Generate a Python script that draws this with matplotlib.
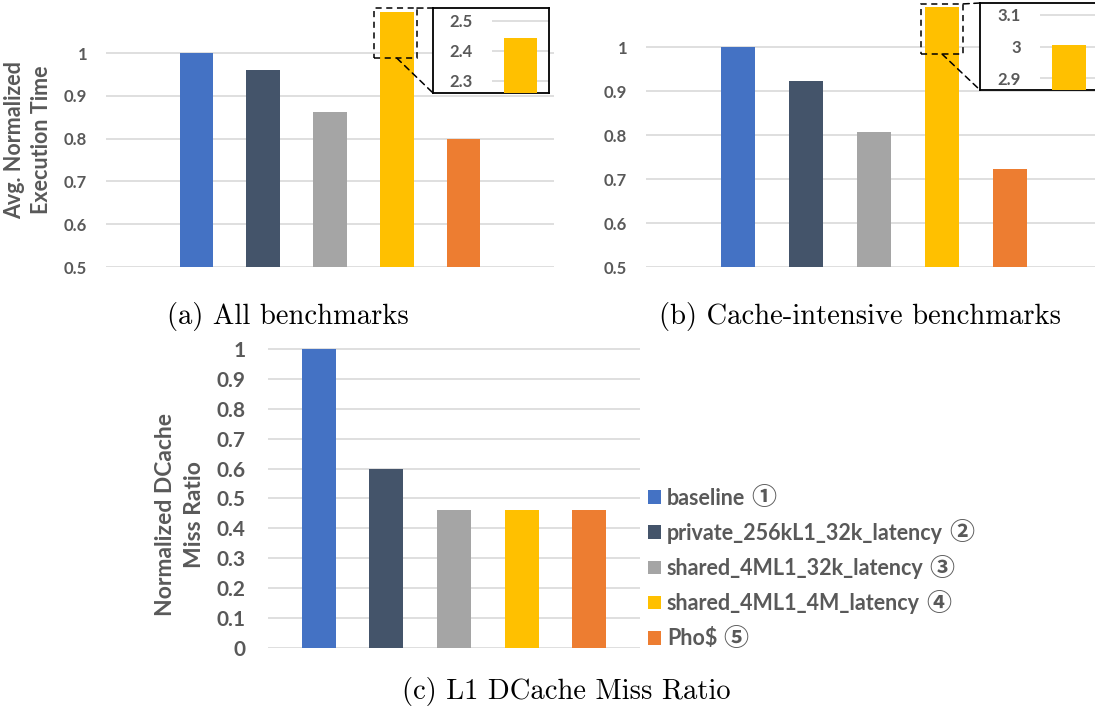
import matplotlib
matplotlib.use('Agg')
import matplotlib.pyplot as plt
from matplotlib.patches import Rectangle, Patch, ConnectionPatch

# ---------------- data ----------------
configs = ['baseline', 'private_256kL1_32k_latency', 'shared_4ML1_32k_latency',
           'shared_4ML1_4M_latency', 'Pho\\$']
circled = ['①', '②', '③', '④', '⑤']
colors = ['#4472C4', '#44546A', '#A5A5A5', '#FFC000', '#ED7D31']

exec_all = [1.0, 0.96, 0.863, 2.443, 0.80]      # (a) all benchmarks
exec_cache = [1.0, 0.923, 0.807, 3.005, 0.723]  # (b) cache-intensive
miss_ratio = [1.0, 0.60, 0.46, 0.46, 0.46]      # (c) L1 DCache miss ratio

ab_ticks = [0.5, 0.6, 0.7, 0.8, 0.9, 1.0]
ab_ticklabels = ['0.5', '0.6', '0.7', '0.8', '0.9', '1']
c_ticks = [0, 0.1, 0.2, 0.3, 0.4, 0.5, 0.6, 0.7, 0.8, 0.9, 1.0]
c_ticklabels = ['0', '0.1', '0.2', '0.3', '0.4', '0.5', '0.6', '0.7', '0.8', '0.9', '1']
inset_a_ticks = [2.3, 2.4, 2.5]
inset_a_labels = ['2.3', '2.4', '2.5']
inset_b_ticks = [2.9, 3.0, 3.1]
inset_b_labels = ['2.9', '3', '3.1']

captions = ['(a) All benchmarks', '(b) Cache-intensive benchmarks', '(c) L1 DCache Miss Ratio']

# ---------------- style ----------------
plt.rcParams['font.family'] = ['Lato', 'DejaVu Sans', 'Noto Sans CJK SC']
TXT = '#595959'
GRID = '#D9D9D9'

W, H = 1095, 713
fig = plt.figure(figsize=(W / 100, H / 100), dpi=100)


def px_axes(x0, y0, x1, y1):
    return fig.add_axes([x0 / W, 1 - y1 / H, (x1 - x0) / W, (y1 - y0) / H])


def style_main(ax, ticks, labels, fs, pad):
    for s in ax.spines.values():
        s.set_visible(False)
    ax.set_yticks(ticks)
    ax.set_yticklabels(labels)
    ax.set_xticks([])
    ax.tick_params(axis='y', length=0, pad=pad, labelsize=fs, labelcolor=TXT)
    for t in ax.get_yticklabels():
        t.set_fontweight('bold')
    ax.grid(axis='y', color=GRID, lw=1.2)
    ax.set_axisbelow(True)


x = list(range(len(configs)))


def main_panel(rect, values, ylim, inset_rect, inset_xlim, inset_ylim, iticks, ilabels,
               ipad, zoom_box, gline_x):
    ax = px_axes(*rect)
    ax.bar(x, values, width=0.5, color=colors)
    ax.set_xlim(-1.35, 5.35)
    ax.set_ylim(*ylim)
    style_main(ax, ab_ticks, ab_ticklabels, 12, 13.5)

    ia = px_axes(*inset_rect)
    ia.bar([0], [values[3]], width=0.5, color=colors[3], zorder=3)
    ia.set_xlim(*inset_xlim)
    ia.set_ylim(*inset_ylim)
    ia.hlines(iticks, gline_x, inset_xlim[1], color=GRID, lw=1.2, zorder=1)
    ia.set_xticks([])
    ia.set_yticks(iticks)
    ia.set_yticklabels(ilabels)
    ia.tick_params(axis='y', length=0, pad=ipad, labelsize=12, labelcolor=TXT)
    for t in ia.get_yticklabels():
        t.set_fontweight('bold')
    for s in ia.spines.values():
        s.set_color('black')
        s.set_linewidth(1.3)

    x0, x1, y0, y1 = zoom_box
    ax.add_patch(Rectangle((x0, y0), x1 - x0, y1 - y0, fill=False, ls=(0, (4, 3)),
                           lw=1.1, ec='black', clip_on=False, zorder=6))
    c1 = ConnectionPatch(xyA=(x1, y1), coordsA=ax.transData, xyB=(0, 1),
                         coordsB=ia.transAxes, ls=(0, (4, 3)), lw=1.1, color='black')
    c2 = ConnectionPatch(xyA=(3.0, y0), coordsA=ax.transData, xyB=(0, 0),
                         coordsB=ia.transAxes, ls=(0, (4, 3)), lw=1.1, color='black')
    fig.add_artist(c1)
    fig.add_artist(c2)
    return ax


# (a)
ax_a = main_panel((106, 12, 554, 267), exec_all, (0.5, 1.0958),
                  (433, 8, 549, 93), (-1.326, 0.432), (2.26, 2.543),
                  inset_a_ticks, inset_a_labels, -28.8,
                  (2.656, 3.30, 0.988, 1.105), -0.43)
# (b)
ax_b = main_panel((646, 7, 1102, 267), exec_cache, (0.5, 1.091),
                  (980, 3, 1096, 90), (-1.309, 0.397), (2.862, 3.138),
                  inset_b_ticks, inset_b_labels, -29.5,
                  (2.69, 3.31, 0.984, 1.098), -0.43)

# (c)
ax_c = px_axes(268, 346, 640, 648)
ax_c.bar(x, miss_ratio, width=0.5, color=colors)
ax_c.set_xlim(-0.75, 4.75)
ax_c.set_ylim(0, 1.01)
style_main(ax_c, c_ticks, c_ticklabels, 15, 16)

handles = [Patch(facecolor=c, edgecolor='none') for c in colors]
leg = ax_c.legend(handles, configs, loc='center left',
                  bbox_to_anchor=(648 / W, 1 - 568.5 / H),
                  bbox_transform=fig.transFigure, frameon=False,
                  prop={'weight': 'bold', 'size': 15.5}, labelcolor=TXT,
                  handlelength=0.6, handleheight=0.6, handletextpad=0.28,
                  labelspacing=0.66, borderpad=0, borderaxespad=0)

# circled markers after each legend entry
fig.canvas.draw()
renderer = fig.canvas.get_renderer()
for t, m in zip(leg.get_texts(), circled):
    bb = t.get_window_extent(renderer)
    fig.text((bb.x1 + 6) / W, (bb.y0 + bb.y1) / 2 / H, m,
             family=['Noto Sans CJK SC', 'DejaVu Sans'], fontsize=18,
             weight='bold', color=TXT, ha='left', va='center')

# y labels
fig.text(28 / W, 1 - 140 / H, 'Avg. Normalized\nExecution Time', rotation=90,
         ha='center', va='center', fontsize=15.5, weight='bold', color=TXT,
         linespacing=1.35, multialignment='center')
fig.text(180 / W, 1 - 515 / H, 'Normalized DCache\nMiss Ratio', rotation=90,
         ha='center', va='center', fontsize=16.5, weight='bold', color=TXT,
         linespacing=1.45, multialignment='center')

# captions
cap_font = ['cmr10', 'DejaVu Serif']
fig.text(287.5 / W, 1 - 324 / H, captions[0], ha='center', va='baseline',
         family=cap_font, fontsize=20.6)
fig.text(860 / W, 1 - 324 / H, captions[1], ha='center', va='baseline',
         family=cap_font, fontsize=20.6)
fig.text(566 / W, 1 - 699 / H, captions[2], ha='center', va='baseline',
         family=cap_font, fontsize=20.6)

fig.savefig('out.png', dpi=100)
